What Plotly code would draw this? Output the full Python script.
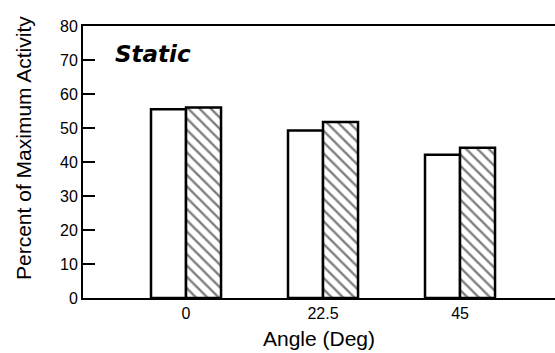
import plotly.graph_objects as go

angles = [0, 22.5, 45]
angle_labels = ["0", "22.5", "45"]
open_vals = [55.5, 49.3, 42.1]
hatched_vals = [56.0, 51.8, 44.2]
y_ticks = [0, 10, 20, 30, 40, 50, 60, 70, 80]

bw = 5.75
fig = go.Figure()
fig.add_trace(go.Bar(x=angles, y=open_vals, width=bw, offset=-bw,
                     marker=dict(color="white", line=dict(color="black", width=2.5)),
                     showlegend=False))
fig.add_trace(go.Bar(x=angles, y=hatched_vals, width=bw, offset=0,
                     marker=dict(color="white", line=dict(color="black", width=2.5),
                                 pattern=dict(shape="\\", fgcolor="black", bgcolor="white",
                                              size=8, solidity=0.3)),
                     showlegend=False))

font = "Liberation Sans"
fig.update_layout(
    width=555, height=353,
    margin=dict(l=83, r=0, t=26, b=55, autoexpand=False),
    paper_bgcolor="white", plot_bgcolor="white",
    barmode="overlay",
    font=dict(family=font, color="black"),
    xaxis=dict(range=[-16.92, 60.6], tickvals=angles, ticktext=angle_labels,
               showline=True, linecolor="black", linewidth=2, mirror=True,
               ticks="", showgrid=False, zeroline=False, automargin=False,
               tickfont=dict(size=16),
               title=dict(text="Angle (Deg)", font=dict(size=21), standoff=10)),
    yaxis=dict(range=[0, 80], tickvals=y_ticks,
               showline=True, linecolor="black", linewidth=2, mirror=False,
               ticks="inside", ticklen=12, tickwidth=2, tickcolor="black",
               showgrid=False, zeroline=False, tickfont=dict(size=16), automargin=False),
    yaxis2=dict(range=[0, 80], tickvals=y_ticks, overlaying="y", side="right",
                matches="y", showline=False, ticks="inside", ticklen=6, tickwidth=2,
                tickcolor="black", showticklabels=False, showgrid=False, zeroline=False,
                automargin=False),
    annotations=[
        dict(text="<b><i>Static</i></b>", x=-12, y=71.8, xref="x", yref="y",
             xanchor="left", yanchor="middle", showarrow=False,
             font=dict(size=23, family="DejaVu Sans")),
        dict(text="Percent of Maximum Activity", textangle=-90,
             x=-60, y=148, xref="paper", yref="paper", xanchor="center", yanchor="middle",
             showarrow=False, font=dict(size=21)),
    ],
)
# place the y-axis title annotation in pixel terms converted to paper coords
plot_w = 555 - 83
plot_h = 353 - 26 - 55
fig.layout.annotations[1].x = (23 - 83) / plot_w
fig.layout.annotations[1].y = (353 - 55 - 148) / plot_h
fig.write_html("out.html", config={"displayModeBar": False},
               post_script="document.body.style.margin='0';document.body.style.overflow='hidden';")
